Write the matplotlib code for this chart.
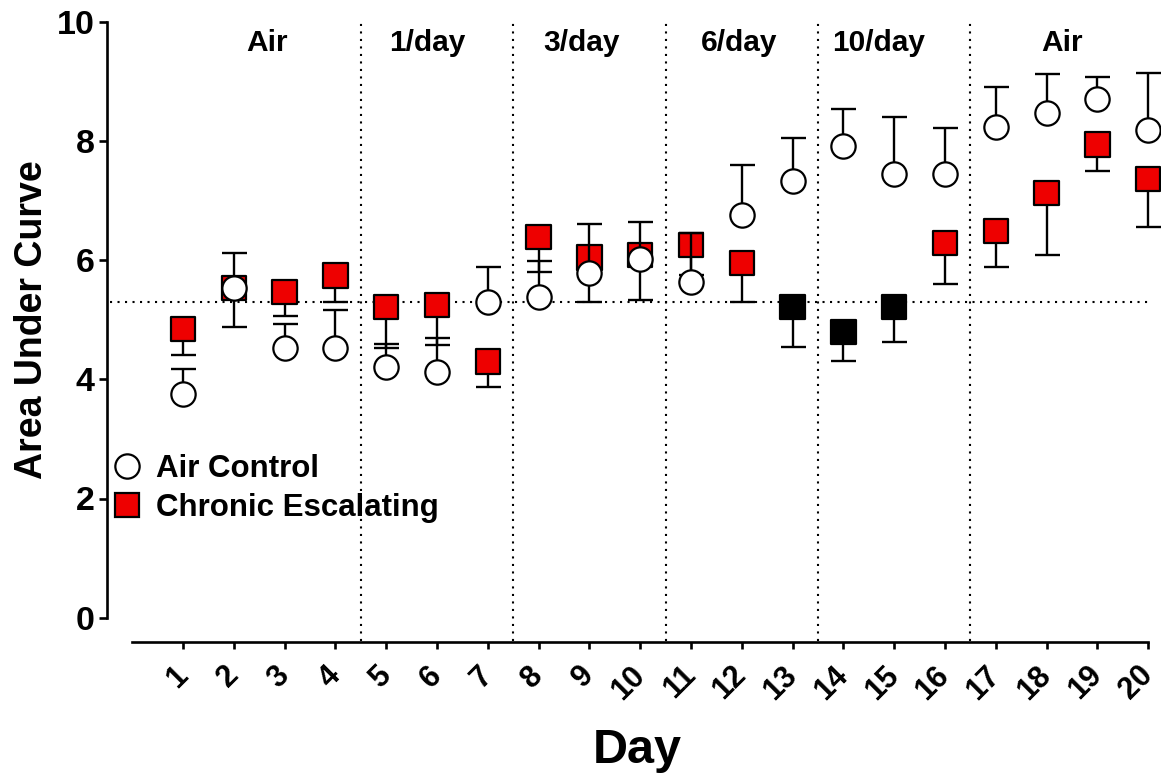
import numpy as np
import matplotlib
matplotlib.use("Agg")
import matplotlib.pyplot as plt
from matplotlib.lines import Line2D

# ---------------- data ----------------
days = list(range(1, 21))
air_mean = [3.76, 5.53, 4.53, 4.53, 4.21, 4.13, 5.30, 5.38, 5.79, 6.02,
            5.64, 6.76, 7.34, 7.92, 7.46, 7.46, 8.25, 8.48, 8.71, 8.20]
air_err_up = [0.41, 0.60, 0.41, 0.63, 0.39, 0.57, 0.59, 0.61, 0.83, 0.63,
              0.82, 0.84, 0.72, 0.63, 0.95, 0.76, 0.67, 0.66, 0.37, 0.95]
esc_mean = [4.85, 5.54, 5.47, 5.75, 5.22, 5.25, 4.30, 6.40, 6.05, 6.09,
            6.26, 5.96, 5.22, 4.80, 5.22, 6.29, 6.50, 7.13, 7.95, 7.37]
esc_err_down = [0.44, 0.65, 0.40, 0.44, 0.69, 0.67, 0.43, 0.59, 0.74, 0.76,
                0.50, 0.66, 0.68, 0.49, 0.59, 0.69, 0.61, 1.03, 0.45, 0.81]
esc_black = [False] * 12 + [True, True, True] + [False] * 5
phase_labels = ["Air", "1/day", "3/day", "6/day", "10/day", "Air"]
phase_bounds = [4.5, 7.5, 10.5, 13.5, 16.5]
baseline = 5.3
series_names = ["Air Control", "Chronic Escalating"]

# ---------------- style ----------------
RED = "#EE0000"
FONT = "Liberation Sans"
plt.rcParams["font.family"] = [FONT, "DejaVu Sans"]
plt.rcParams["font.weight"] = "bold"

fig = plt.figure(figsize=(11.61, 7.82), dpi=100)
W, H = 1161, 782
ax = fig.add_axes([132.2 / W, 1 - 617.5 / H, 1016 / W, 595 / H])
ax.set_xlim(0, 20)
ax.set_ylim(0, 10)

MS = 17.5
MEW = 1.6
ELW = 1.7
CAP = 9.0

x = np.array(days)
am = np.array(air_mean)
em = np.array(esc_mean)

# escalating: error bars then squares
ax.errorbar(x, em, yerr=[np.array(esc_err_down), np.zeros(len(x))], fmt="none",
            ecolor="black", elinewidth=ELW, capsize=CAP, capthick=ELW,
            zorder=2, clip_on=False)
sq_colors = ["black" if b else RED for b in esc_black]
ax.scatter(x, em, marker="s", s=MS ** 2, c=sq_colors, edgecolors="black",
           linewidths=MEW, zorder=3, clip_on=False)

# air control: error bars then circles
ax.errorbar(x, am, yerr=[np.zeros(len(x)), np.array(air_err_up)], fmt="none",
            ecolor="black", elinewidth=ELW, capsize=CAP, capthick=ELW,
            zorder=4, clip_on=False)
ax.plot(x, am, linestyle="none", marker="o", markersize=MS,
        markerfacecolor="white", markeredgecolor="black",
        markeredgewidth=MEW, zorder=5, clip_on=False)

# reference lines
dot = (0, (1, 2.6))
ax.plot([-0.44, 20], [baseline, baseline], color="black", lw=1.5,
        linestyle=dot, zorder=1, clip_on=False)
for b in phase_bounds:
    ax.plot([b, b], [-0.40, 10.05], color="black", lw=1.5, linestyle=dot,
            zorder=1, clip_on=False)

# phase labels
edges = [0.5] + phase_bounds + [20.5]
label_shift = [0.15, -0.2, -0.15, -0.05, -0.3, -0.2]
for i, lab in enumerate(phase_labels):
    cx = (edges[i] + edges[i + 1]) / 2 + label_shift[i]
    ax.text(cx, 9.52, lab, ha="center", va="baseline", fontsize=21.5,
            fontweight="bold")

# axes styling
for s in ["top", "right"]:
    ax.spines[s].set_visible(False)
ax.spines["left"].set_position(("outward", 17.8))
ax.spines["bottom"].set_position(("outward", 17.4))
ax.spines["left"].set_linewidth(1.9)
ax.spines["bottom"].set_linewidth(1.9)

ax.set_yticks([0, 2, 4, 6, 8, 10])
ax.set_yticklabels([str(v) for v in [0, 2, 4, 6, 8, 10]], fontsize=24.5,
                   fontweight="bold")
ax.tick_params(axis="y", length=6, width=1.9, pad=3.5)
ax.set_xticks(days)
ax.set_xticklabels([str(d) for d in days], fontsize=22, fontweight="bold",
                   rotation=45, ha="right", va="center",
                   rotation_mode="anchor")
ax.tick_params(axis="x", length=5, width=1.9, pad=16)

ax.set_ylabel("Area Under Curve", fontsize=27, fontweight="bold")
ax.yaxis.set_label_coords((50 - 132.2) / 1016, 0.5)
ax.set_xlabel("Day", fontsize=35, fontweight="bold")
ax.xaxis.set_label_coords(0.497, (617.5 - 728) / 595)

# legend
handles = [
    Line2D([], [], linestyle="none", marker="o", markersize=MS,
           markerfacecolor="white", markeredgecolor="black",
           markeredgewidth=MEW),
    Line2D([], [], linestyle="none", marker="s", markersize=MS,
           markerfacecolor=RED, markeredgecolor="black",
           markeredgewidth=MEW),
]
leg = ax.legend(handles, series_names, loc="upper left",
                bbox_to_anchor=(111 / W, 1 - 454 / H),
                bbox_transform=fig.transFigure, frameon=False,
                handlelength=1.0, handletextpad=0.45, labelspacing=0.3,
                borderpad=0, borderaxespad=0,
                prop={"family": FONT, "weight": "bold", "size": 22.5})

fig.savefig("out.png", dpi=100)
